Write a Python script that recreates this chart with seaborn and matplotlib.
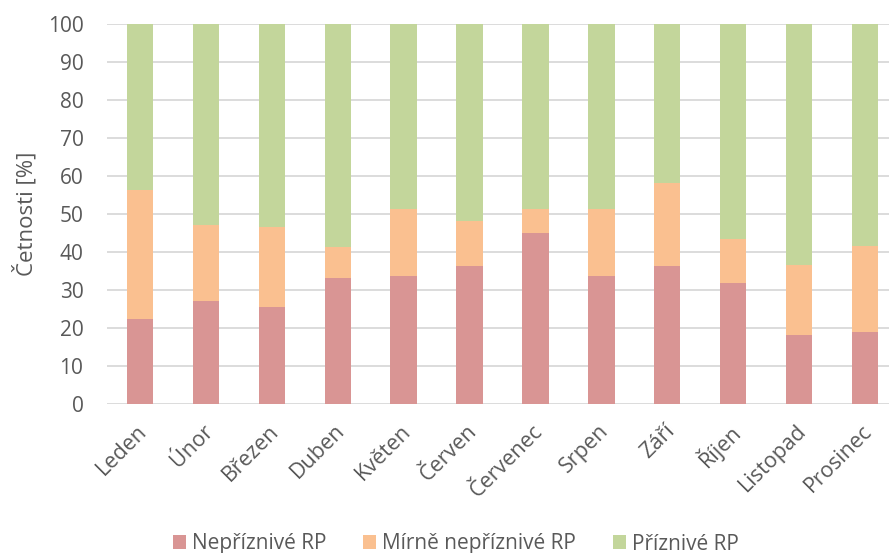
import matplotlib
matplotlib.use("Agg")
import matplotlib.pyplot as plt
import seaborn as sns
import numpy as np
from matplotlib.patches import Patch
from matplotlib.transforms import ScaledTranslation

# Monthly share of weather situation types [%]
months = ["Leden", "Únor", "Březen", "Duben", "Květen", "Červen",
          "Červenec", "Srpen", "Září", "Říjen", "Listopad", "Prosinec"]
nepriznive = [22.4, 27.1, 25.7, 33.2, 33.7, 36.5, 45.1, 33.7, 36.5, 32.0, 18.2, 19.1]
mirne_nepriznive = [34.0, 20.1, 21.0, 8.3, 17.8, 11.7, 6.3, 17.7, 21.7, 11.4, 18.4, 22.6]
priznive = [43.6, 52.8, 53.3, 58.5, 48.5, 51.8, 48.6, 48.6, 41.8, 56.6, 63.4, 58.3]

series_names = ["Nepříznivé RP", "Mírně nepříznivé RP", "Příznivé RP"]
series_colors = ["#D99594", "#FAC090", "#C3D69B"]
y_ticks = list(range(0, 101, 10))

sns.set_theme(style="white")
plt.rcParams["font.family"] = ["Open Sans", "DejaVu Sans"]
text_color = "#595959"

fig = plt.figure(figsize=(8.89, 5.53), dpi=100)
ax = fig.add_axes([107 / 889, (553 - 404.3) / 553, 791 / 889, 380 / 553])

# stacked bars: draw cumulative totals from the top layer down
stack = np.cumsum([nepriznive, mirne_nepriznive, priznive], axis=0)
for top, col in reversed(list(zip(stack, series_colors))):
    sns.barplot(x=months, y=top, order=months, color=col, saturation=1,
                width=0.4, errorbar=None, linewidth=0, ax=ax, zorder=3)

ax.set_xlim(-0.5, 11.5)
ax.set_ylim(0, 100)
ax.set_yticks(y_ticks)
ax.yaxis.grid(True, color="#D9D9D9", linewidth=1.3, zorder=0)
ax.set_axisbelow(True)
for s in ax.spines.values():
    s.set_visible(False)

ax.tick_params(axis="both", length=0, labelcolor=text_color)
ax.tick_params(axis="y", pad=17, labelsize=15)
ax.tick_params(axis="x", pad=17, labelsize=15.5)
ax.set_xlabel("")
ax.set_ylabel("Četnosti [%]", fontsize=16, color=text_color)
ax.yaxis.set_label_coords((25 - 107) / 791, 0.5)
ax.yaxis.label.set_va("center")

shift = ScaledTranslation(4 / 100, 0, fig.dpi_scale_trans)
for lab in ax.get_xticklabels():
    lab.set_rotation(45)
    lab.set_ha("right")
    lab.set_va("center")
    lab.set_rotation_mode("anchor")
    lab.set_transform(lab.get_transform() + shift)

handles = [Patch(facecolor=c, edgecolor="none", label=n)
           for n, c in zip(series_names, series_colors)]
fig.legend(handles=handles, loc="center", bbox_to_anchor=(456 / 889, 9 / 553),
           ncol=3, frameon=False, fontsize=15, labelcolor=text_color,
           handlelength=0.62, handleheight=0.62, handletextpad=0.3,
           columnspacing=1.75, borderaxespad=0, borderpad=0)

fig.savefig("out.png", dpi=100)
